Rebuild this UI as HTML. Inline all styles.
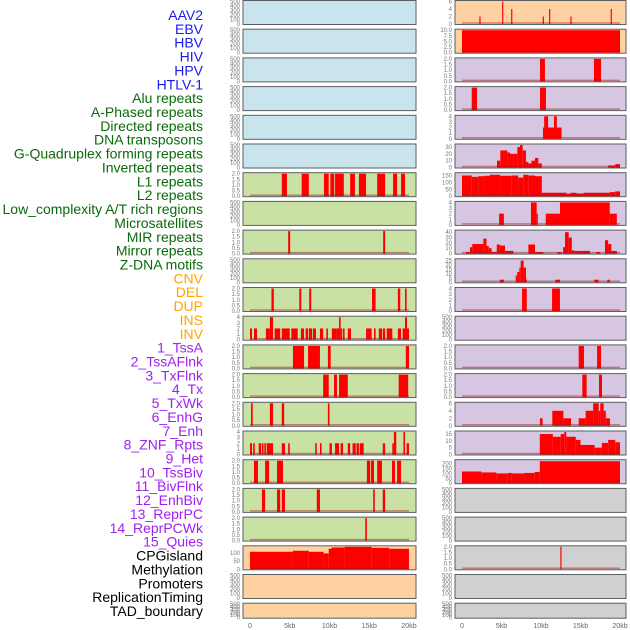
<!DOCTYPE html>
<html><head><meta charset="utf-8"><style>
html,body{margin:0;padding:0;background:#fff;}
svg{display:block;font-family:"Liberation Sans",sans-serif;}
</style></head><body>
<svg id="chart" width="630" height="630" viewBox="0 0 630 630"></svg>
<script>
const NS="http://www.w3.org/2000/svg";
const labels=["AAV2","EBV","HBV","HIV","HPV","HTLV-1","Alu repeats","A-Phased repeats","Directed repeats","DNA transposons","G-Quadruplex forming repeats","Inverted repeats","L1 repeats","L2 repeats","Low_complexity A/T rich regions","Microsatellites","MIR repeats","Mirror repeats","Z-DNA motifs","CNV","DEL","DUP","INS","INV","1_TssA","2_TssAFlnk","3_TxFlnk","4_Tx","5_TxWk","6_EnhG","7_Enh","8_ZNF_Rpts","9_Het","10_TssBiv","11_BivFlnk","12_EnhBiv","13_ReprPC","14_ReprPCWk","15_Quies","CPGisland","Methylation","Promoters","ReplicationTiming","TAD_boundary"];
const groups=["viral","viral","viral","viral","viral","viral","repeat","repeat","repeat","repeat","repeat","repeat","repeat","repeat","repeat","repeat","repeat","repeat","repeat","sv","sv","sv","sv","sv","hmm","hmm","hmm","hmm","hmm","hmm","hmm","hmm","hmm","hmm","hmm","hmm","hmm","hmm","hmm","other","other","other","other","other"];
const yMax=[500,500,500,500,500,500,2,500,2,500,2,4,2,2,2,4,2,2,2,136,500,500,6,10,2,2,4,33,163,4,42,26,4,500,2,2,6,16.5,230,500,500,2,500,500];
const yTicks=[
[0,100,200,300,400,500],[0,100,200,300,400,500],[0,100,200,300,400,500],[0,100,200,300,400,500],[0,100,200,300,400,500],[0,100,200,300,400,500],
[0,0.5,1,1.5,2],[0,100,200,300,400,500],[0,0.5,1,1.5,2],[0,100,200,300,400,500],[0,0.5,1,1.5,2],[0,1,2,3,4],[0,0.5,1,1.5,2],[0,0.5,1,1.5,2],[0,0.5,1,1.5,2],[0,1,2,3,4],[0,0.5,1,1.5,2],[0,0.5,1,1.5,2],[0,0.5,1,1.5,2],
[0,50,100],[0,100,200,300,400,500],[0,100,200,300,400,500],
[0,2,4,6],[0,2.5,5,7.5,10],[0,0.5,1,1.5,2],[0,0.5,1,1.5,2],[0,1,2,3,4],[0,10,20,30],[0,50,100,150],[0,1,2,3,4],[0,10,20,30,40],[0,5,10,15,20,25],[0,1,2,3,4],[0,100,200,300,400,500],[0,0.5,1,1.5,2],[0,0.5,1,1.5,2],[0,2,4,6],[0,5,10,15],[0,50,100,150,200],
[0,100,200,300,400,500],[0,100,200,300,400,500],[0,0.5,1,1.5,2],[0,100,200,300,400,500],[0,100,200,300,400,500]];
const tickDecimals=[0,0,0,0,0,0,1,0,1,0,1,0,1,1,1,0,1,1,1,0,0,0,0,1,1,1,0,0,0,0,0,0,0,0,1,1,0,0,0,0,0,1,0,0];
// bars: [startKb, endKb, value]
const bars=[
[],[],[],[],[],[],
[[4.0,4.65,2],[6.5,7.4,2],[9.3,9.9,2],[10.1,10.6,2],[10.7,11.8,2],[12.6,13.2,2],[13.7,14.6,2],[16.0,17.0,2],[18.0,18.5,2],[19.0,19.5,2]],
[],
[[4.8,5.05,2],[16.75,17.0,2]],
[],
[[2.7,3.0,2],[6.2,6.45,2],[7.45,7.7,2],[15.35,15.8,2],[18.6,18.9,2],[19.5,19.7,2]],
[[0,0.25,2],[0.5,0.88,2],[2.0,2.5,2],[2.5,2.9,4],[3.1,3.8,2],[4.0,5.0,2],[5.2,6.0,2],[6.4,6.8,2],[7.0,7.3,2],[7.4,7.8,2],[7.9,8.3,2],[8.8,9.2,2],[9.6,9.8,2],[10.3,10.9,2],[10.9,11.2,2],[11.2,11.4,4],[11.4,11.6,2],[11.7,11.9,2],[12.3,12.7,2],[14.6,15.3,2],[15.6,15.8,2],[16.2,16.6,2],[16.7,17.0,2],[17.2,17.9,2],[18.6,19.0,2],[19.2,19.5,2],[19.5,19.75,4],[19.75,20,2]],
[[5.4,6.8,2],[7.3,8.8,2],[9.8,10.15,2],[19.6,20,2]],
[[9.2,9.9,2],[10.57,10.94,2],[11.2,12.3,2],[18.7,19.9,2]],
[[0.13,0.34,2],[2.5,2.9,2],[4.0,4.3,2],[9.8,10.0,2]],
[[0,0.25,2],[0.4,0.6,2],[1.1,1.4,2],[1.5,1.7,2],[1.8,2.0,2],[2.1,2.9,2],[4.0,4.4,2],[4.8,5.0,2],[8.2,8.4,2],[8.8,9.0,2],[10.0,10.3,2],[10.7,11.2,2],[11.4,11.7,2],[12.3,12.6,2],[12.9,13.3,2],[13.4,13.7,2],[13.8,14.3,2],[16.7,17.0,2],[17.9,18.1,2],[18.1,18.4,4],[19.3,19.5,4],[19.7,20,2]],
[[0.5,1.0,2],[1.9,2.4,2],[3.4,4.15,2],[14.7,15.1,2],[15.2,15.6,2],[16.0,16.6,2],[17.86,18.24,2],[18.5,19.0,2]],
[[1.5,1.9,2],[3.4,3.8,2],[4.0,4.4,2],[8.4,8.8,2],[15.5,15.7,2],[16.7,17.0,2]],
[[14.5,14.7,2]],
[[0,5.4,106],[5.4,7.4,112],[7.4,9.25,106],[9.25,9.9,96],[9.9,10.25,124],[10.25,11.9,132],[11.9,15.3,136],[15.3,17.5,130],[17.5,20,124]],
[],[],
[[2.2,2.35,2],[5.08,5.23,6],[6.22,6.37,4],[10.22,10.37,2],[11.02,11.17,4],[13.72,13.87,2],[18.82,18.97,4]],
[[0,20,10]],
[[9.87,10.5,2],[16.7,17.6,2]],
[[1.23,1.9,2],[9.87,10.63,2]],
[[10.25,12.6,2],[10.4,10.9,4],[11.65,12.0,4]],
[[4.43,4.85,10],[4.85,5.74,25],[5.74,6.08,22],[6.08,6.5,20],[6.5,7.0,20],[7.0,7.34,30],[7.34,7.68,33],[7.68,8.1,25],[8.1,8.4,8],[8.4,8.8,6],[8.8,9.24,10],[9.24,9.66,14],[9.66,10.1,6],[18.5,19.4,3],[19.4,20,5]],
[[0,1.22,150],[1.22,2.07,140],[2.07,2.9,145],[2.9,3.54,148],[3.54,4.8,155],[4.8,6.3,148],[6.3,7.1,150],[7.1,7.76,135],[7.76,8.4,155],[8.4,9.24,150],[9.24,10.1,145],[10.1,13.25,25],[13.25,13.7,18],[13.7,14.5,25],[14.5,15.4,20],[15.4,18.7,25],[18.7,19.4,30],[19.4,20,35]],
[[4.7,5.3,2],[8.73,9.45,4],[9.45,9.6,2],[10.6,12.4,2],[12.4,18.7,4],[18.7,19.6,2]],
[[0.5,1.0,3],[1.0,1.3,12],[1.3,2.7,18],[2.7,3.1,28],[3.1,3.4,14],[3.4,3.75,10],[3.75,4.4,3],[4.4,4.8,17],[4.8,5.44,15],[5.44,6.5,5],[8.4,9.24,17],[9.24,10.3,3],[12.07,12.6,3],[12.8,13.04,12],[13.04,13.5,40],[13.5,13.9,30],[13.9,14.2,6],[14.2,16.2,5],[17.0,17.5,3],[18.1,18.5,25],[18.5,18.9,18],[18.9,19.6,5]],
[[4.8,5.3,3],[6.8,7.0,8],[7.0,7.26,12],[7.26,7.43,17],[7.43,7.8,25],[7.8,8.1,17],[8.1,8.2,3],[11.8,12.4,3],[16.75,17.3,3],[18.4,18.7,3]],
[[7.6,8.2,4],[11.4,12.4,4]],
[],
[[14.77,15.44,2],[17.1,17.6,2]],
[[15.23,15.78,2],[17.34,17.72,2]],
[[9.87,10.2,2],[11.43,12.83,4],[12.83,13.8,2],[14.77,15.65,2],[15.65,16.6,4],[16.6,17.3,6],[17.3,17.5,4],[17.5,17.93,6],[17.93,18.2,4],[18.2,18.73,2]],
[[9.85,11.5,15],[11.5,12.5,13],[12.5,12.95,15],[12.95,13.2,16.5],[13.2,14.4,13],[14.4,15.0,10.7],[15.0,16.8,7],[16.8,17.7,5],[17.7,18.5,8.5],[18.5,19.4,10.7],[19.4,20,9]],
[[0,2.45,120],[2.45,4.35,110],[4.35,5.8,100],[5.8,6.3,105],[6.3,7.9,100],[7.9,9.2,105],[9.2,9.85,115],[9.85,20,225]],
[],[],
[[12.45,12.6,2]],
[],[]];
const xTickVals=[0,5,10,15,20];
const xTickLabels=["0","5kb","10kb","15kb","20kb"];
const bgColors={viral:"#c9e4ec",repeat:"#c9e1a5",sv:"#ffd1a0",hmm:"#d6c6e1",other:"#d0d0d0"};
const labelColors={viral:"#1a1aee",repeat:"#0a6a0a",sv:"#ffa500",hmm:"#a020f0",other:"#000000"};

const svg=document.getElementById("chart");
function mk(tag,attrs,parent){const e=document.createElementNS(NS,tag);for(const k in attrs)e.setAttribute(k,attrs[k]);(parent||svg).appendChild(e);return e;}
const colX=[243,455], colW=[173,171], dataOff=7, dataW=[159,158];
function rowTop(r){return 0.5+28.7*r;}
function rowH(r){return r===21?15:24;}
function xScale(col,kb){return colX[col]+dataOff+kb/20*dataW[col];}

labels.forEach((t,i)=>{
  const el=mk("text",{x:203,y:20+i*13.86,"text-anchor":"end","font-size":"14",fill:labelColors[groups[i]]});
  el.textContent=t;
  
  
});

labels.forEach((t,p)=>{
  const col=p<22?0:1, r=p%22;
  const top=rowTop(r), h=rowH(r), x0=colX[col], w=colW[col];
  const g=mk("g",{});
  
  
  mk("rect",{x:x0,y:top,width:w,height:h,fill:bgColors[groups[p]],stroke:"#5a5f60","stroke-width":1},g);
  const yb=top+h-0.5, yt=top+1;
  const ys=v=>yb-(v/yMax[p])*(yb-yt);
  bars[p].forEach(b=>{
    const xa=xScale(col,b[0]), xb=xScale(col,b[1]);
    const rc=mk("rect",{x:xa,y:ys(b[2]),width:Math.max(1,xb-xa),height:yb-ys(b[2]),fill:"#ff0000"},g);
    
    
  });
  if(bars[p].length){
    const bl=mk("line",{x1:xScale(col,0),x2:xScale(col,20),y1:yb-1,y2:yb-1,stroke:"rgba(160,20,20,0.45)","stroke-width":1.5},g);
    
    
  }
  yTicks[p].forEach(v=>{
    const tx=mk("text",{x:x0-3,y:ys(v)+2,"text-anchor":"end","font-size":"6",fill:"#777"},g);
    tx.textContent=v.toFixed(tickDecimals[p]);
    
    
  });
});

[0,1].forEach(col=>{
  xTickVals.forEach((v,i)=>{
    const tx=mk("text",{x:xScale(col,v),y:628,"text-anchor":"middle","font-size":"7",fill:"#666"});
    tx.textContent=xTickLabels[i];
    
    
  });
});
</script>
</body></html>
